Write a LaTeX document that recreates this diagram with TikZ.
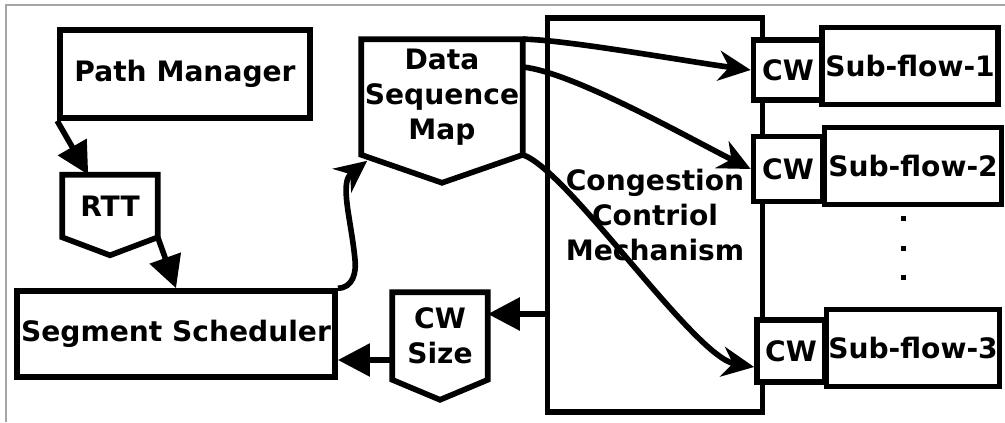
\documentclass[tikz,border=0pt]{standalone}
\usepackage{fontspec}
\setmainfont{DejaVu Sans}
\usetikzlibrary{positioning, arrows.meta}
\tikzset{
    x=0.025cm, y=-0.025cm, % one unit is one pixel of the drawing
    box/.style={rectangle, draw, line width=4pt, fill=white, align=center, inner sep=0pt,
        font=\fontsize{20pt}{25pt}\selectfont\bfseries},
    tagbody/.style={rectangle, align=center, inner sep=0pt,
        font=\fontsize{20pt}{25pt}\selectfont\bfseries}, % text part of the down pointing tags
    flow/.style={line width=4pt, -{Triangle[length=0.8cm, width=0.8cm]}},
    link/.style={line width=4pt, -{Stealth[length=0.8cm, width=0.75cm]}},
    dot/.style={rectangle, fill, minimum size=0.125cm, inner sep=0pt},
}
% outline of a tag: rectangle with a point at the bottom
\newcommand{\pentag}[2]{\draw[line width=4pt] (#1.north west) -- (#1.north east) -- (#1.south east)
    -- ([shift={(0,#2)}]#1.south) -- (#1.south west) -- cycle;}

\begin{document}
\begin{tikzpicture}
        \useasboundingbox (0,0) rectangle (1005,422);
        \draw[gray!70, line width=1pt] (6,422) -- (6,5) -- (1005,5);

        % Nodes
        \node[box, minimum width=6.25cm, minimum height=2.2cm] (pm) at (185,74) {Path Manager};
        \node[tagbody, minimum width=2.375cm, minimum height=1.55cm] (rtt) at (110,206) {RTT};
        \node[box, minimum width=7.95cm, minimum height=2.15cm] (ss) at (176,334) {Segment Scheduler};
        \node[tagbody, minimum width=4.025cm, minimum height=2.875cm] (dsm) at (442,97) {Data\\Sequence\\Map};
        \node[tagbody, minimum width=2.375cm, minimum height=2.175cm] (cs) at (440,336) {CW\\Size};
        \node[box, minimum width=5.375cm, minimum height=9.85cm] (ccm) at (655,215) {Congestion\\Contriol\\Mechanism};

        \node[box, minimum width=1.725cm, minimum height=1.5cm] (cw1) at (788,70) {CW};
        \node[box, minimum width=1.725cm, minimum height=1.625cm] (cw2) at (788,169) {CW};
        \node[box, minimum width=1.7cm, minimum height=1.55cm] (cw3) at (791,351) {CW};
        \node[box, minimum width=4.4cm, minimum height=1.925cm] (sf1) at (910,66) {Sub-flow-1};
        \node[box, minimum width=4.425cm, minimum height=1.925cm] (sf2) at (913,166) {Sub-flow-2};
        \node[box, minimum width=4.325cm, minimum height=1.925cm] (sf3) at (913,348) {Sub-flow-3};
        \foreach \y/\n in {218/1, 248/2, 277/3}
            \node[dot] (dot\n) at (903,\y) {};

        \pentag{rtt}{18}
        \pentag{dsm}{28}
        \pentag{cs}{20}

        \coordinate (csin) at ([shift={(0,-22)}]cs.east);
        \coordinate (csout) at ([shift={(0,24)}]cs.west);

        % Draw lines
        \draw[flow] (pm.south west) -- ([shift={(26,0)}]rtt.north west);
        \draw[flow] (rtt.south east) -- (ss.north);
        \draw[link] (ss.north east) .. controls +(15,0) and +(2,14) .. ++(17,-30)
            .. controls +(-4,-40) and +(-28,22) .. ([shift={(6,6)}]dsm.south west);
        \draw[flow] (ccm.west |- csin) -- (csin);
        \draw[flow] (csout) -- (ss.east |- csout);
        \draw[link] (dsm.north east) .. controls +(40,0) and +(-60,-8) .. (cw1.west);
        \draw[link] ([shift={(0,-30)}]dsm.east) .. controls +(50,5) and +(-60,-30) .. (cw2.west);
        \draw[link] (dsm.south east) .. controls +(45,15) and +(-60,-10) .. ([shift={(0,16)}]cw3.west);
    \end{tikzpicture}
\end{document}
